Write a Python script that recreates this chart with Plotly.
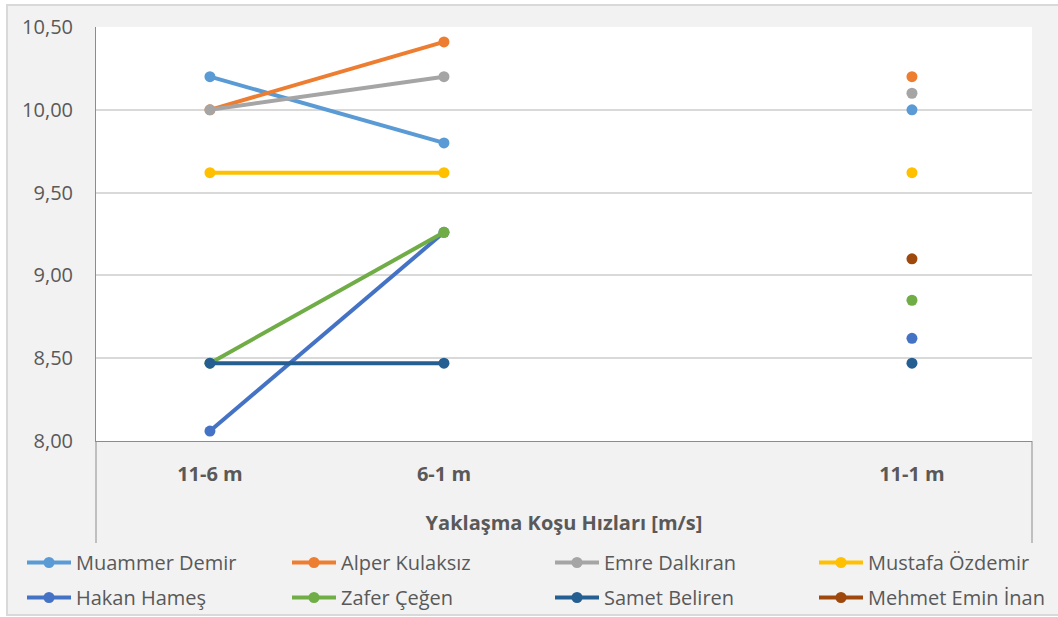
import plotly.graph_objects as go

categories = ["11-6 m", "6-1 m", " ", "11-1 m"]

names = ["Muammer Demir", "Alper Kulaksız", "Emre Dalkıran", "Mustafa Özdemir",
         "Hakan Hameş", "Zafer Çeğen", "Samet Beliren", "Mehmet Emin İnan"]

muammer = [10.20, 9.80, None, 10.00]
alper = [10.00, 10.41, None, 10.20]
emre = [10.00, 10.20, None, 10.10]
mustafa = [9.62, 9.62, None, 9.62]
hakan = [8.06, 9.26, None, 8.62]
zafer = [8.47, 9.26, None, 8.85]
samet = [8.47, 8.47, None, 8.47]
mehmet = [None, None, None, 9.10]

series = [muammer, alper, emre, mustafa, hakan, zafer, samet, mehmet]
colors = ["#5B9BD5", "#ED7D31", "#A5A5A5", "#FFC000",
          "#4472C4", "#70AD47", "#255E91", "#9E480E"]
# legend column for each series (4 columns, 2 rows)
legend_ids = ["legend", "legend2", "legend3", "legend4",
              "legend", "legend2", "legend3", "legend4"]

TXT = "#595959"
FONT = "Open Sans"

fig = go.Figure()
for i, (nm, vals, col, lg) in enumerate(zip(names, series, colors, legend_ids)):
    fig.add_trace(go.Scatter(
        x=categories, y=vals, name=nm, mode="lines+markers",
        line=dict(color=col, width=4),
        marker=dict(color=col, size=11),
        legend=lg, legendgroup=nm, legendrank=i,
    ))

W, H = 1058, 617
L, R, T, B = 96, 26, 27, 176
pw, ph = W - L - R, H - T - B


def px(xp):
    return (xp - L) / pw


def py(yp):
    return (H - B - yp) / ph


legend_common = dict(
    orientation="v", yanchor="top", xanchor="left",
    font=dict(family=FONT, size=20, color=TXT),
    bgcolor="rgba(0,0,0,0)", itemwidth=44, tracegroupgap=6,
    itemclick=False, itemdoubleclick=False,
)
col_px = [22, 287, 550, 814]
lay_legends = {}
for k, c in zip(["legend", "legend2", "legend3", "legend4"], col_px):
    lay_legends[k] = dict(legend_common, x=px(c), y=py(543))

fig.update_layout(
    width=W, height=H,
    margin=dict(l=L, r=R, t=T, b=B, autoexpand=False),
    paper_bgcolor="white", plot_bgcolor="white",
    separators=",.",
    font=dict(family=FONT, color=TXT),
    showlegend=True,
    xaxis=dict(
        type="category", categoryorder="array", categoryarray=categories,
        range=[-0.487, 3.513], showgrid=False, zeroline=False,
        showline=True, linecolor="#8C8C8C", linewidth=1,
        ticks="", ticklabelstandoff=15,
        tickfont=dict(family=FONT, size=20, color=TXT, weight="bold"),
        title=dict(text="Yaklaşma Koşu Hızları [m/s]", standoff=29,
                   font=dict(family=FONT, size=20, color=TXT, weight="bold")),
    ),
    yaxis=dict(
        range=[8, 10.5], dtick=0.5, tick0=8, tickformat=".2f",
        showgrid=True, gridcolor="#D9D9D9", gridwidth=1.5,
        zeroline=False, showline=True, linecolor="#8C8C8C", linewidth=1,
        ticks="", ticklabelstandoff=18,
        tickfont=dict(family=FONT, size=20, color=TXT),
    ),
    shapes=[
        dict(type="rect", xref="paper", yref="paper", layer="below",
             x0=px(7), x1=px(1064), y0=py(615), y1=py(5),
             fillcolor="#F2F2F2", line=dict(color="#D9D9D9", width=2)),
        dict(type="rect", xref="paper", yref="paper", layer="below",
             x0=0, x1=1, y0=0, y1=1, fillcolor="white", line=dict(width=0)),
        dict(type="line", xref="paper", yref="paper", layer="above",
             x0=0, x1=0, y0=0, y1=py(543), line=dict(color="#8C8C8C", width=1)),
        dict(type="line", xref="paper", yref="paper", layer="above",
             x0=1, x1=1, y0=0, y1=py(543), line=dict(color="#8C8C8C", width=1)),
    ],
    **lay_legends,
)

fig.write_html("out.html")
